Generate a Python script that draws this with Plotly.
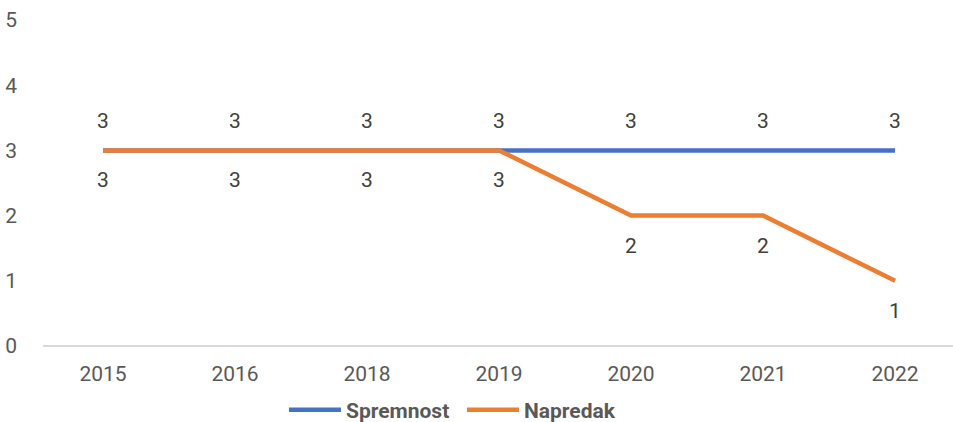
import plotly.graph_objects as go

years = ["2015", "2016", "2018", "2019", "2020", "2021", "2022"]
spremnost = [3, 3, 3, 3, 3, 3, 3]
napredak = [3, 3, 3, 3, 2, 2, 1]
y_ticks = [0, 1, 2, 3, 4, 5]

BLUE = "#4472C4"
ORANGE = "#ED7D31"
GREY = "#595959"
LABEL = "#404040"
FONT = "Roboto"
FS = 21

fig = go.Figure()
fig.add_trace(go.Scatter(x=years, y=spremnost, mode="lines", name="Spremnost",
                         line=dict(color=BLUE, width=4.5), hoverinfo="skip"))
fig.add_trace(go.Scatter(x=years, y=napredak, mode="lines", name="Napredak",
                         line=dict(color=ORANGE, width=4.5), hoverinfo="skip"))

for i, v in enumerate(spremnost):
    fig.add_annotation(x=i, y=v, text=str(v), showarrow=False, yshift=29,
                       font=dict(family=FONT, size=FS, color=LABEL))
for i, v in enumerate(napredak):
    fig.add_annotation(x=i, y=v, text=str(v), showarrow=False, yshift=-30,
                       font=dict(family=FONT, size=FS, color=LABEL))

fig.update_layout(
    width=953, height=422,
    margin=dict(l=43, r=0, t=20, b=76, autoexpand=False),
    paper_bgcolor="white", plot_bgcolor="white",
    font=dict(family=FONT, size=FS, color=GREY),
    showlegend=True,
    legend=dict(orientation="h", x=0.4604, xanchor="center", xref="paper",
                y=-0.1963, yanchor="middle",
                font=dict(family=FONT, size=FS, color=GREY, weight="bold"),
                itemwidth=52, entrywidth=111, tracegroupgap=0),
    xaxis=dict(type="category", range=[-0.4545, 6.439], showgrid=False,
               showline=False, zeroline=False, ticks="", ticklabelstandoff=13,
               automargin=False,
               tickfont=dict(family=FONT, size=FS, color=GREY)),
    yaxis=dict(range=[0, 5], tickvals=y_ticks, showgrid=False, zeroline=True,
               zerolinecolor="#D9D9D9", zerolinewidth=1.5, showline=False,
               ticks="", ticklabelstandoff=25, automargin=False,
               ticklabeloverflow="allow",
               tickfont=dict(family=FONT, size=FS, color=GREY)),
)

fig.write_html("out.html", config={"displayModeBar": False},
               post_script="document.body.style.margin='0';")
